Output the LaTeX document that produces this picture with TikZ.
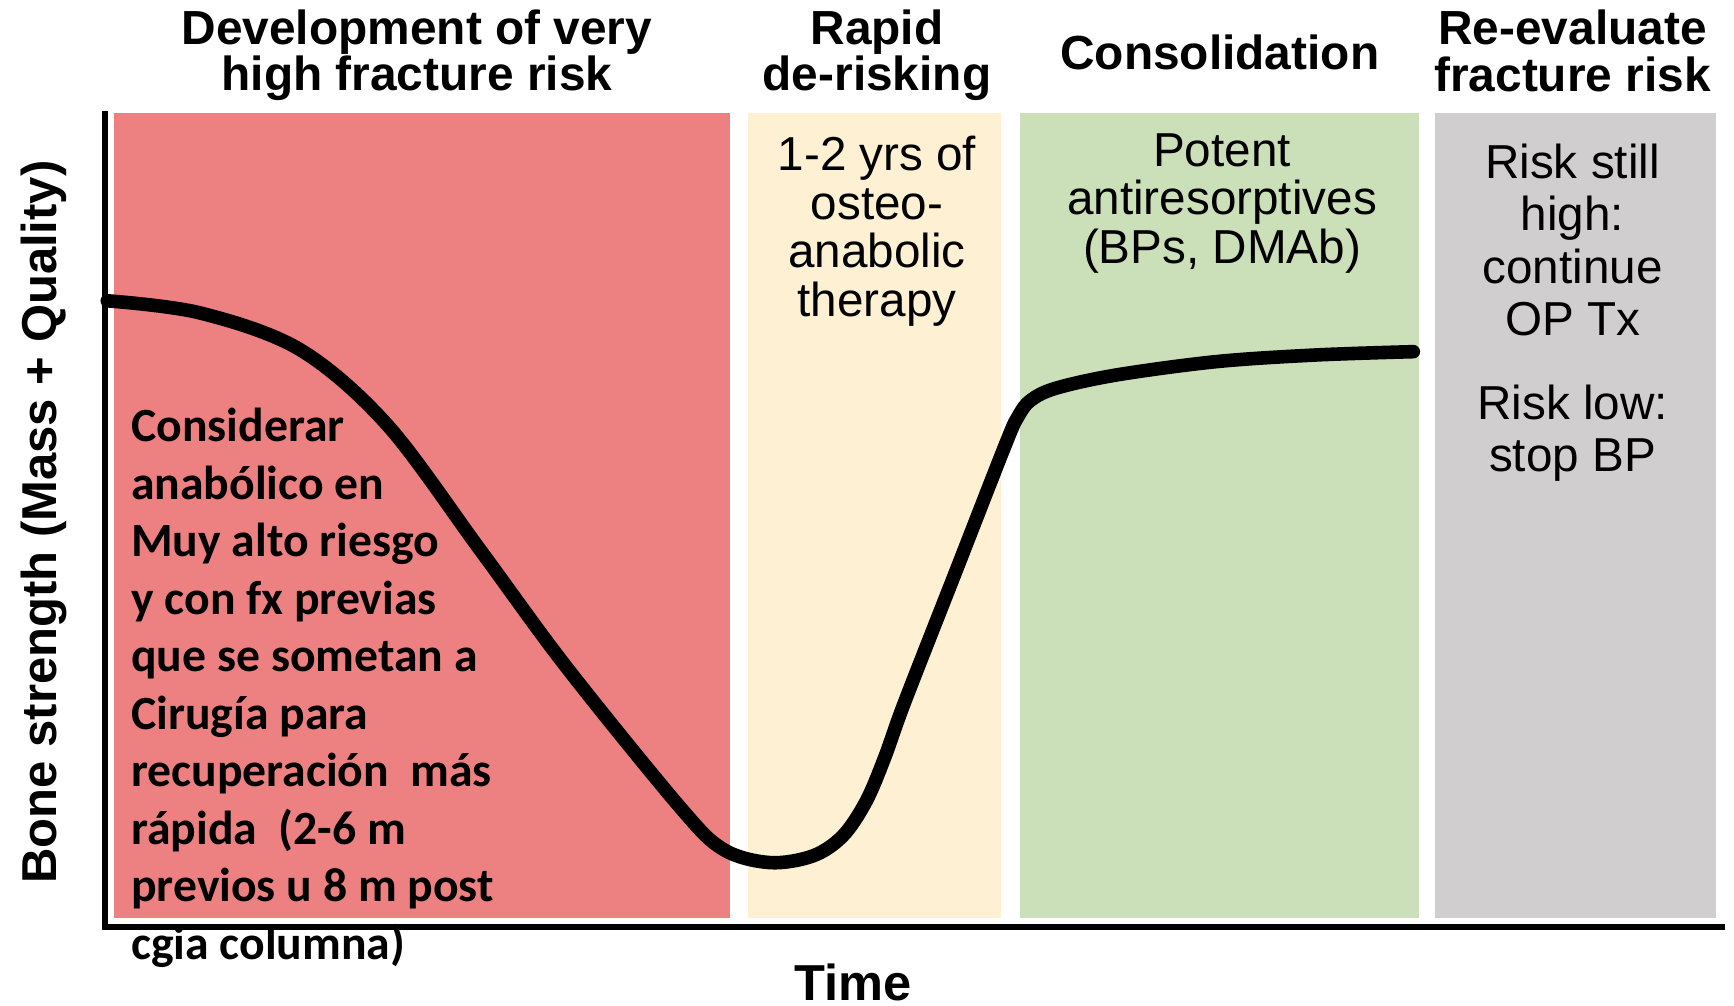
\documentclass[tikz,border=0pt]{standalone}
\usepackage{fontspec}
\setmainfont{Liberation Sans}
\newfontfamily\spanishfont{Carlito}
\definecolor{riskred}{RGB}{237,128,129}
\definecolor{anabolicyellow}{RGB}{253,240,211}
\definecolor{consolgreen}{RGB}{203,223,184}
\definecolor{evalgray}{RGB}{209,206,208}
\begin{document}
\begin{tikzpicture}[x=0.01cm,y=-0.01cm,
  heading/.style={font=\fontsize{12.3}{11.95}\selectfont\bfseries, align=center, inner sep=0pt},
  phasetext/.style={font=\fontsize{12.25}{12.5}\selectfont, align=center, inner sep=0pt},
  graytext/.style={font=\fontsize{12.25}{13.4}\selectfont, align=center, inner sep=0pt},
  notetext/.style={font=\spanishfont\fontsize{12.26}{14.8}\selectfont\bfseries, align=left, inner sep=0pt},
  axis/.style={line width=1.45pt},
  curve/.style={line width=3.5pt, line cap=round, line join=round}]
\useasboundingbox (0,0) rectangle (1568,909);
\fill[white] (0,0) rectangle (1568,909);

% phase panels
\fill[riskred]        (103,102) rectangle (660,830);
\fill[anabolicyellow] (676,102) rectangle (905,830);
\fill[consolgreen]    (922,102) rectangle (1283,830);
\fill[evalgray]       (1298,102) rectangle (1552,830);

% phase headings
\node[heading] (h1) at (377,50) {Development of very\\high fracture risk};
\node[heading] (h2) at (793,50) {Rapid\\de-risking};
\node[heading] (h3) at (1103,47) {Consolidation};
\node[heading] (h4) at (1422,46) {Re-evaluate\\fracture risk};

% panel texts
\node[phasetext] (t2) at (793,209) {1-2 yrs of\\osteo-\\anabolic\\therapy};
\node[phasetext] (t3) at (1105,184) {Potent\\antiresorptives\\(BPs, DMAb)};
\node[graytext] (t4a) at (1422,217) {Risk still\\high:\\continue\\OP Tx};
\node[graytext] (t4b) at (1422,392) {Risk low:\\stop BP};

% bone strength curve
\draw[curve] plot[smooth, tension=0.55] coordinates {
  (97,272) (181,283) (271,316) (350,384) (434,497) (512,603) (615,730)
  (654,768) (696,780) (735,774) (762,756) (783,725) (800,685) (818,635)
  (865,515) (910,400) (921,376) (932,362) (955,351)
  (1010,339) (1100,327) (1190,321) (1278,318)};

% axes
\draw[axis] (95,100) -- (95,840);
\draw[axis] (92,838) -- (1560,838);

% axis labels
\node[font=\fontsize{13}{13}\selectfont\bfseries, inner sep=0pt] (xl) at (771,888) {Time};
\node[font=\fontsize{12.6}{12.6}\selectfont\bfseries, inner sep=0pt, rotate=90] (yl) at (40,472) {Bone strength (Mass + Quality)};

% note
\node[notetext, anchor=west] (note) at (118,622) {Considerar\\anabólico en\\Muy alto riesgo\\y con fx previas\\que se sometan a\\Cirugía para\\recuperación\ \ más\\rápida\ \ (2-6 m\\previos u 8 m post\\cgia columna)};
\end{tikzpicture}
\end{document}
